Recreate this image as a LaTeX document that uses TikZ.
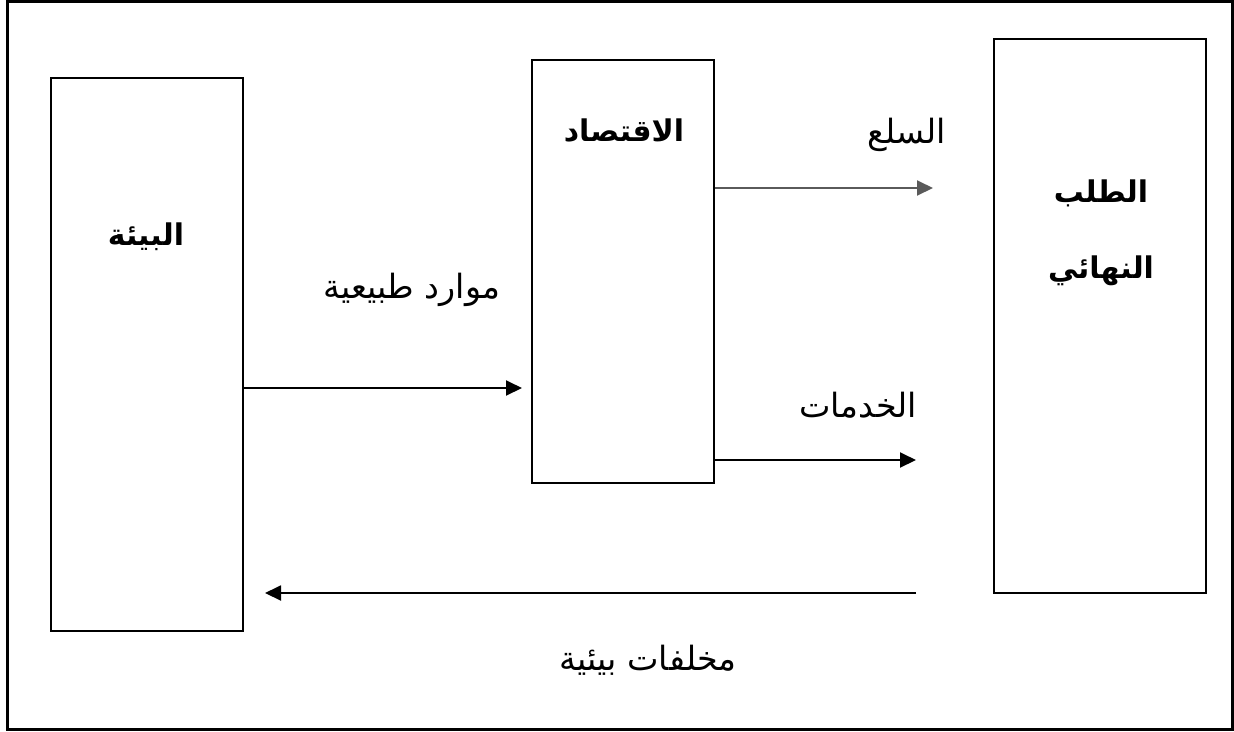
\documentclass[tikz,border=0pt]{standalone}
\usepackage{fontspec}
\usepackage{xcolor}
\usetikzlibrary{arrows.meta,positioning}
\newfontfamily\arabicfont[Script=Arabic]{DejaVu Sans}
\TeXXeTstate=1
\newcommand{\arab}[1]{{\arabicfont\beginR #1\endR}}
\definecolor{flowgray}{RGB}{90,90,90}

\begin{document}
\begin{tikzpicture}[
x=0.02cm,y=-0.02cm,
blok/.style={
  draw,
  line width=1.1pt,
  inner sep=0pt
},
flow/.style={
  -{Triangle[length=0.32cm,width=0.3cm]},
  line width=1.1pt
},
lbl/.style={
  font=\fontsize{19}{22}\selectfont
},
head/.style={
  font=\fontsize{17}{20}\selectfont\bfseries
}
]
\useasboundingbox (0,0) rectangle (1234,731);
\draw[line width=1.7pt] (7.5,1.5) rectangle (1232.5,729.5);

% the three boxes
\node[blok,minimum width=3.84cm,minimum height=11.06cm] at (147,354.5)
  (env) {};
\node[blok,minimum width=3.64cm,minimum height=8.46cm] at (623,271.5)
  (econ) {};
\node[blok,minimum width=4.24cm,minimum height=11.07cm] at (1100,316)
  (dem) {};

\node[head] at (146,237) (envtxt) {\arab{البيئة}};
\node[head] at (624,131) (econtxt) {\arab{الاقتصاد}};
\node[head] at (1101,193) (demtxt) {\arab{الطلب}};
\node[head,below=1.55cm of demtxt.center,anchor=center] (demtxtb) {\arab{النهائي}};

% free ends of the connectors
\coordinate (resin) at (522,388);
\coordinate (goodsend) at (933,188);
\coordinate (servend) at (916,460);
\coordinate (wastestart) at (916,593);
\coordinate (wasteend) at (265,593);

\draw[flow] (resin -| env.east) -- (resin);
\draw[flow,flowgray] (goodsend -| econ.east) -- (goodsend);
\draw[flow] (servend -| econ.east) -- (servend);
\draw[flow] (wastestart) -- (wasteend);

\node[lbl] at (412,290) (restxt) {\arab{موارد طبيعية}};
\node[lbl] at (907,135) (goodstxt) {\arab{السلع}};
\node[lbl] at (858,405) (servtxt) {\arab{الخدمات}};
\node[lbl] at (648,660) (wastetxt) {\arab{مخلفات بيئية}};
\end{tikzpicture}
\end{document}
